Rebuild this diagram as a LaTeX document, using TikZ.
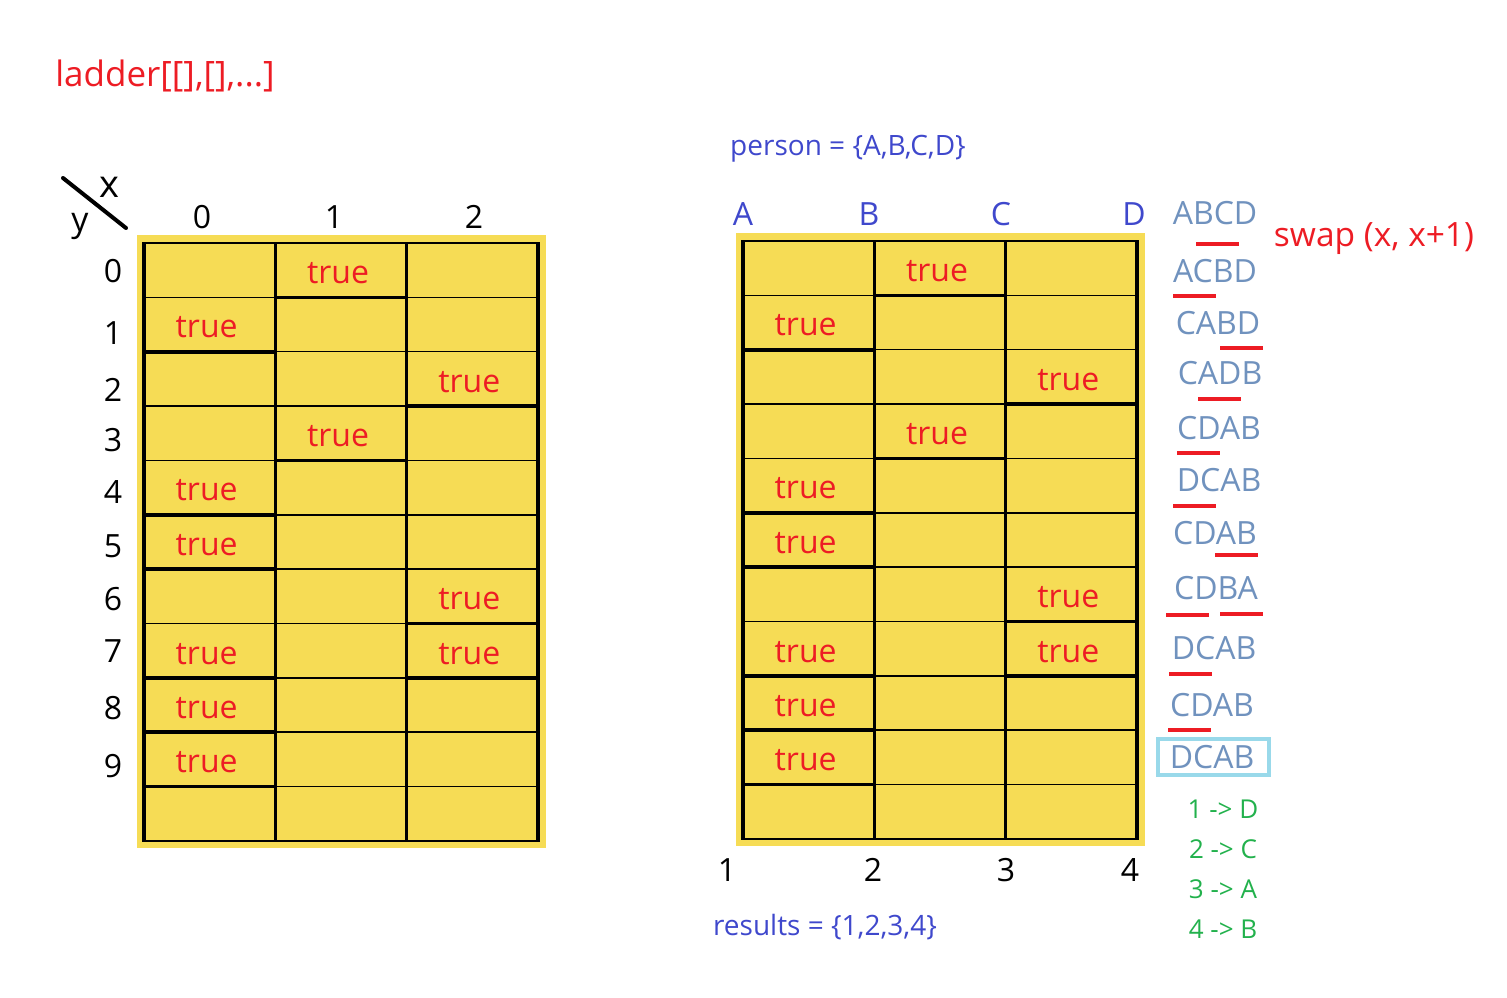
\documentclass[tikz,border=0pt]{standalone}
\usepackage{fontspec}
\setmainfont{Open Sans}

\definecolor{ladderyellow}{HTML}{F6DC55}
\definecolor{truered}{HTML}{ED1C24}
\definecolor{nameblue}{HTML}{3F48CC}
\definecolor{permblue}{HTML}{7092BE}
\definecolor{mapgreen}{HTML}{22B14C}
\definecolor{boxcyan}{HTML}{99D9EA}

% rungs of the ladder: row/column
\newcommand{\rungs}{0/1,1/0,2/2,3/1,4/0,5/0,6/2,7/0,7/2,8/0,9/0}

\begin{document}
\begin{tikzpicture}[
      x=1pt, y=-1pt,
      every node/.style={inner sep=0pt, anchor=center},
      big/.style={font=\fontsize{32}{38}\selectfont},
      mid/.style={font=\fontsize{28}{34}\selectfont},
      small/.style={font=\fontsize{26}{31}\selectfont},
      truecell/.style={big, text=truered},
      thin line/.style={line width=1.5pt},
      thick line/.style={line width=3.6pt},
      perm/.style={big, text=permblue},
      swapmark/.style={draw=truered, line width=4pt},
      mapping/.style={small, text=mapgreen}
    ]
    \useasboundingbox (0,0) rectangle (1507,997);

    % Title
    \node[font=\fontsize{35}{42}\selectfont, text=truered] (title) at (165,76) {ladder[[],[],...]};

    % Two ladder grids
    \foreach \g/\ox/\oy in {L/144/243,R/743/241} {
      \begin{scope}[shift={(\ox,\oy)}]
        \fill[ladderyellow] (-7.5,-8.5) rectangle (401.5,604.5);
        \foreach \i in {0,...,11}
          \draw[thin line] (0,\i*54.35) -- (394,\i*54.35);
        \foreach \r/\c in \rungs {
          \draw[thick line] ({\c*131.33},{(\r+1)*54.35}) -- ({(\c+1)*131.33},{(\r+1)*54.35});
          \node[truecell] (\g-\r-\c) at ({(\c+0.5)*131.33-3},{(\r+0.5)*54.35+3}) {true};
        }
        \foreach \c in {0,...,3}
          \draw[thick line] ({\c*131.33},-0.75) -- ({\c*131.33},598.6);
      \end{scope}
    }

    % Left axes
    \draw[line width=4pt, line cap=round] (63,178) -- (126,228);
    \node[font=\fontsize{38}{44}\selectfont] (ax-x) at (109,187) {x};
    \node[font=\fontsize{34}{40}\selectfont] (ax-y) at (80,226) {y};
    \foreach \c/\xx in {0/202,1/334,2/474}
      \node[big] (col-\c) at (\xx,217) {\c};
    \foreach \r/\yy in {0/271,1/333,2/390,3/440,4/492,5/546,6/599,7/651,8/708,9/766}
      \node[big] (row-\r) at (113,\yy) {\r};

    % Right labels
    \node[mid, text=nameblue] (person) at (848,149) {person = \{A,B,C,D\}};
    \foreach \p/\xx in {A/743,B/869,C/1001,D/1134}
      \node[big, text=nameblue] (top-\p) at (\xx,214) {\p};
    \foreach \n/\xx in {1/727,2/873,3/1006,4/1130}
      \node[big] (bot-\n) at (\xx,870) {\n};
    \node[mid, text=nameblue] (results) at (825,927) {results = \{1,2,3,4\}};

    % Permutations
    \foreach \s/\xx/\yy [count=\k] in {ABCD/1215/213,ACBD/1215/271,CABD/1218/323,CADB/1220/373,
        CDAB/1219/428,DCAB/1219/480,CDAB/1215/533,CDBA/1216/588,DCAB/1214/648,CDAB/1212/705,DCAB/1212/757}
      \node[perm] (perm-\k) at (\xx,\yy) {\s};
    \draw[boxcyan, line width=4pt] (1158,739) rectangle (1269,775);
    \foreach \xa/\xb/\yy in {1196/1239/244,1173/1216/296,1220/1263/348,1198/1241/399,1177/1220/453,
        1173/1216/506,1215/1258/555,1166/1209/615,1220/1263/614,1169/1212/674,1168/1211/730}
      \draw[swapmark] (\xa,\yy) -- (\xb,\yy);
    \node[font=\fontsize{33.5}{40}\selectfont, text=truered] (swap) at (1374,239) {swap (x, x+1)};

    % Result mapping
    \foreach \n/\p/\yy in {1/D/809,2/C/849,3/A/889,4/B/929}
      \node[mapping] (map-\n) at (1223,\yy) {\n{} -> \p};
  \end{tikzpicture}
\end{document}
